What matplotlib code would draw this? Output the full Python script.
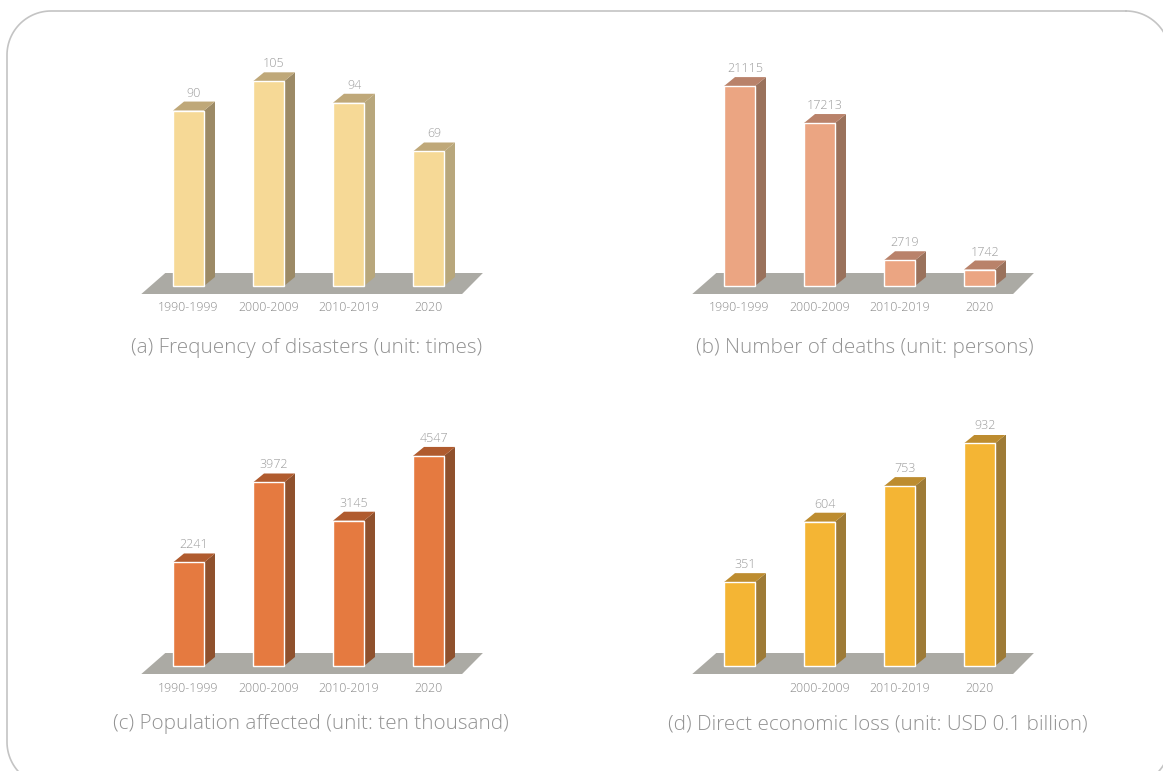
import numpy as np
import matplotlib
matplotlib.use("Agg")
import matplotlib.pyplot as plt
from matplotlib.patches import Polygon

# data for the four panels
periods = ['1990-1999', '2000-2009', '2010-2019', '2020']
periods_d = ['', '2000-2009', '2010-2019', '2020']

freq = [90, 105, 94, 69]
deaths = [21115, 17213, 2719, 1742]
affected = [2241, 3972, 3145, 4547]
loss = [351, 604, 753, 932]

titles = ['(a) Frequency of disasters (unit: times)',
          '(b) Number of deaths (unit: persons)',
          '(c) Population affected (unit: ten thousand)',
          '(d) Direct economic loss (unit: USD 0.1 billion)']

plt.rcParams['font.family'] = ['Open Sans', 'DejaVu Sans']

W, H = 1163, 771
fig = plt.figure(figsize=(W / 100, H / 100), dpi=100)


def rounded_frame(x0, y0, x1, y1, r):
    # corner arcs in pixel coords (y measured from top)
    pts = []
    corners = [(x1 - r, y0 + r, -90, 0), (x1 - r, y1 - r, 0, 90),
               (x0 + r, y1 - r, 90, 180), (x0 + r, y0 + r, 180, 270)]
    for cx, cy, a0, a1 in corners:
        t = np.radians(np.linspace(a0, a1, 30))
        pts += list(zip(cx + r * np.cos(t), cy + r * np.sin(t)))
    pts.append(pts[0])
    px = np.array(pts)
    return px[:, 0] / W, 1 - px[:, 1] / H


fx, fy = rounded_frame(7, 11, 1170, 786, 44)
fig.add_artist(plt.Line2D(fx, fy, transform=fig.transFigure, color='#c4c4c4',
                          linewidth=1.2))

PX_STEP = 80.0      # pixels between bars
AX_W, AX_H = 370, 245
BASE_PX = 14        # pixels from axes bottom to bar base
DEPTH_X, DEPTH_Y = 11, 9


def draw_panel(left_px, base_px, values, labels, front, top, sides, ytop, title, title_xy):
    ax = fig.add_axes([left_px / W, 1 - (base_px + BASE_PX) / H, AX_W / W, AX_H / H])
    ax.axis('off')
    ppu = (AX_H - BASE_PX) / ytop          # pixels per data unit
    x0 = -58.5 / PX_STEP
    ax.set_xlim(x0, x0 + AX_W / PX_STEP)
    ax.set_ylim(-BASE_PX / ppu, ytop)

    n = len(values)
    xs = np.arange(n)
    w = 31 / PX_STEP
    dx = DEPTH_X / PX_STEP
    dy = DEPTH_Y / ppu

    # grey floor
    fb, ft = -8 / ppu, 13 / ppu
    floor = Polygon([(-0.59, fb), (n - 0.58, fb), (n - 0.32, ft), (-0.29, ft)],
                    closed=True, facecolor='#abaaa4', edgecolor='none', zorder=1)
    ax.add_patch(floor)

    for i, (x, v) in enumerate(zip(xs, values)):
        side = Polygon([(x + w / 2, 0), (x + w / 2 + dx, dy),
                        (x + w / 2 + dx, v + dy), (x + w / 2, v)],
                       closed=True, facecolor=sides[i], edgecolor='none', zorder=2)
        ax.add_patch(side)
        tp = Polygon([(x - w / 2, v), (x + w / 2, v),
                      (x + w / 2 + dx, v + dy), (x - w / 2 + dx, v + dy)],
                     closed=True, facecolor=top, edgecolor='none', zorder=2)
        ax.add_patch(tp)
        ax.text(x + dx / 2, v + dy + 2 / ppu, f'{v}', ha='center', va='bottom',
                fontsize=9.0, color='#9c9c9c', fontweight='light')
        ax.text(x, -22 / ppu, labels[i], ha='center', va='center',
                fontsize=8.9, color='#8a8a8a', fontweight='light')

    ax.bar(xs, values, width=w, color=front, edgecolor='white', linewidth=1.0, zorder=3)

    fig.text(title_xy[0] / W, 1 - title_xy[1] / H, title, ha='center', va='center',
             fontsize=14.9, color='#929292', fontweight='light')


draw_panel(130, 286, freq, periods, '#f6d996', '#bfa879',
           ['#9c8a66', '#9c8a66', '#b8a77c', '#b8a77c'], 118.5, titles[0], (307, 348))
draw_panel(681, 286, deaths, periods, '#eba582', '#b9826a',
           ['#9a725c', '#9a725c', '#9a725c', '#9a725c'], 24400, titles[1], (865, 348))
draw_panel(130, 666, affected, periods, '#e57a40', '#b05b2e',
           ['#8f512d', '#8f512d', '#8f512d', '#8f512d'], 5000, titles[2], (311, 724))
draw_panel(681, 666, loss, periods_d, '#f4b534', '#bd8c2f',
           ['#9e7b37', '#9e7b37', '#9e7b37', '#9e7b37'], 967, titles[3], (878, 724))

fig.savefig('out.png', dpi=100, facecolor='white')
